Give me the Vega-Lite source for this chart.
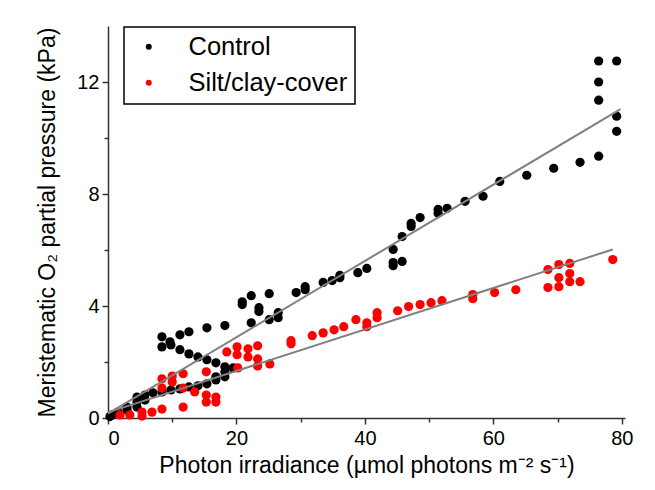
{
  "$schema": "https://vega.github.io/schema/vega-lite/v6.json",
  "width": 517,
  "height": 392,
  "autosize": {"type": "none"},
  "padding": {"left": 108, "top": 26, "right": 30, "bottom": 72},
  "background": "white",
  "config": {
    "view": {"stroke": null},
    "font": "Liberation Sans",
    "axis": {
      "domainColor": "#333333",
      "domainWidth": 1.5,
      "tickColor": "#333333",
      "tickWidth": 1.5,
      "grid": false,
      "labelFont": "Liberation Sans",
      "titleFont": "Liberation Sans",
      "labelColor": "#000000",
      "titleColor": "#000000",
      "labelFontSize": 20,
      "titleFontSize": 23,
      "titleFontWeight": "normal"
    },
    "legend": {
      "labelFont": "Liberation Sans",
      "labelFontSize": 25.5,
      "labelColor": "#000000",
      "strokeColor": "#000000",
      "strokeWidth": 1.5,
      "padding": 7,
      "rowPadding": 9,
      "symbolSize": 36,
      "symbolOffset": 5,
      "labelOffset": 27,
      "fillColor": "white"
    }
  },
  "datasets": {
    "points": [
      {"irr": 0.3, "o2": 0.05, "group": "Control"},
      {"irr": 0.62, "o2": 0.11, "group": "Control"},
      {"irr": 1.56, "o2": 0.21, "group": "Control"},
      {"irr": 2.96, "o2": 0.39, "group": "Control"},
      {"irr": 2.96, "o2": 0.29, "group": "Control"},
      {"irr": 4.51, "o2": 0.75, "group": "Control"},
      {"irr": 4.51, "o2": 0.57, "group": "Control"},
      {"irr": 4.51, "o2": 0.39, "group": "Control"},
      {"irr": 5.76, "o2": 0.82, "group": "Control"},
      {"irr": 5.76, "o2": 0.64, "group": "Control"},
      {"irr": 7.0, "o2": 0.9, "group": "Control"},
      {"irr": 8.4, "o2": 0.93, "group": "Control"},
      {"irr": 9.8, "o2": 1.0, "group": "Control"},
      {"irr": 11.2, "o2": 1.04, "group": "Control"},
      {"irr": 12.6, "o2": 1.11, "group": "Control"},
      {"irr": 14.0, "o2": 1.15, "group": "Control"},
      {"irr": 15.4, "o2": 1.22, "group": "Control"},
      {"irr": 16.8, "o2": 1.36, "group": "Control"},
      {"irr": 16.8, "o2": 1.47, "group": "Control"},
      {"irr": 18.2, "o2": 1.47, "group": "Control"},
      {"irr": 18.2, "o2": 1.65, "group": "Control"},
      {"irr": 18.2, "o2": 1.83, "group": "Control"},
      {"irr": 19.5, "o2": 1.79, "group": "Control"},
      {"irr": 16.8, "o2": 1.97, "group": "Control"},
      {"irr": 15.4, "o2": 2.08, "group": "Control"},
      {"irr": 14.0, "o2": 2.18, "group": "Control"},
      {"irr": 12.6, "o2": 2.29, "group": "Control"},
      {"irr": 11.2, "o2": 2.44, "group": "Control"},
      {"irr": 9.8, "o2": 2.61, "group": "Control"},
      {"irr": 9.65, "o2": 2.72, "group": "Control"},
      {"irr": 8.4, "o2": 2.9, "group": "Control"},
      {"irr": 8.4, "o2": 2.54, "group": "Control"},
      {"irr": 11.2, "o2": 2.97, "group": "Control"},
      {"irr": 12.6, "o2": 3.08, "group": "Control"},
      {"irr": 15.4, "o2": 3.22, "group": "Control"},
      {"irr": 18.2, "o2": 3.3, "group": "Control"},
      {"irr": 20.9, "o2": 4.15, "group": "Control"},
      {"irr": 20.9, "o2": 4.05, "group": "Control"},
      {"irr": 22.3, "o2": 4.37, "group": "Control"},
      {"irr": 23.5, "o2": 3.94, "group": "Control"},
      {"irr": 23.5, "o2": 3.8, "group": "Control"},
      {"irr": 22.3, "o2": 3.4, "group": "Control"},
      {"irr": 25.1, "o2": 4.44, "group": "Control"},
      {"irr": 25.1, "o2": 3.51, "group": "Control"},
      {"irr": 26.5, "o2": 3.76, "group": "Control"},
      {"irr": 26.5, "o2": 3.58, "group": "Control"},
      {"irr": 29.3, "o2": 4.48, "group": "Control"},
      {"irr": 30.7, "o2": 4.69, "group": "Control"},
      {"irr": 30.7, "o2": 4.58, "group": "Control"},
      {"irr": 33.5, "o2": 4.84, "group": "Control"},
      {"irr": 34.9, "o2": 4.91, "group": "Control"},
      {"irr": 36.1, "o2": 5.09, "group": "Control"},
      {"irr": 36.1, "o2": 5.01, "group": "Control"},
      {"irr": 38.9, "o2": 5.19, "group": "Control"},
      {"irr": 40.3, "o2": 5.34, "group": "Control"},
      {"irr": 44.4, "o2": 6.02, "group": "Control"},
      {"irr": 44.4, "o2": 5.55, "group": "Control"},
      {"irr": 44.4, "o2": 5.44, "group": "Control"},
      {"irr": 45.8, "o2": 5.59, "group": "Control"},
      {"irr": 45.8, "o2": 6.48, "group": "Control"},
      {"irr": 47.2, "o2": 6.95, "group": "Control"},
      {"irr": 47.2, "o2": 6.84, "group": "Control"},
      {"irr": 48.6, "o2": 7.16, "group": "Control"},
      {"irr": 51.4, "o2": 7.45, "group": "Control"},
      {"irr": 51.4, "o2": 7.31, "group": "Control"},
      {"irr": 52.8, "o2": 7.49, "group": "Control"},
      {"irr": 55.6, "o2": 7.74, "group": "Control"},
      {"irr": 58.4, "o2": 7.92, "group": "Control"},
      {"irr": 61.0, "o2": 8.45, "group": "Control"},
      {"irr": 65.2, "o2": 8.67, "group": "Control"},
      {"irr": 69.4, "o2": 8.92, "group": "Control"},
      {"irr": 73.5, "o2": 9.13, "group": "Control"},
      {"irr": 76.4, "o2": 9.35, "group": "Control"},
      {"irr": 76.4, "o2": 11.35, "group": "Control"},
      {"irr": 76.4, "o2": 12.0, "group": "Control"},
      {"irr": 76.4, "o2": 12.75, "group": "Control"},
      {"irr": 79.2, "o2": 12.75, "group": "Control"},
      {"irr": 79.2, "o2": 10.78, "group": "Control"},
      {"irr": 79.2, "o2": 10.24, "group": "Control"},
      {"irr": 1.87, "o2": 0.11, "group": "Silt/clay-cover"},
      {"irr": 3.4, "o2": 0.11, "group": "Silt/clay-cover"},
      {"irr": 5.3, "o2": 0.21, "group": "Silt/clay-cover"},
      {"irr": 5.3, "o2": 0.07, "group": "Silt/clay-cover"},
      {"irr": 6.85, "o2": 0.21, "group": "Silt/clay-cover"},
      {"irr": 8.4, "o2": 0.32, "group": "Silt/clay-cover"},
      {"irr": 11.7, "o2": 0.39, "group": "Silt/clay-cover"},
      {"irr": 8.4, "o2": 1.4, "group": "Silt/clay-cover"},
      {"irr": 8.4, "o2": 1.07, "group": "Silt/clay-cover"},
      {"irr": 10.0, "o2": 1.5, "group": "Silt/clay-cover"},
      {"irr": 10.0, "o2": 1.29, "group": "Silt/clay-cover"},
      {"irr": 11.7, "o2": 1.58, "group": "Silt/clay-cover"},
      {"irr": 11.7, "o2": 1.07, "group": "Silt/clay-cover"},
      {"irr": 13.5, "o2": 0.93, "group": "Silt/clay-cover"},
      {"irr": 15.3, "o2": 1.65, "group": "Silt/clay-cover"},
      {"irr": 15.3, "o2": 0.82, "group": "Silt/clay-cover"},
      {"irr": 15.3, "o2": 0.57, "group": "Silt/clay-cover"},
      {"irr": 16.8, "o2": 0.75, "group": "Silt/clay-cover"},
      {"irr": 16.8, "o2": 0.57, "group": "Silt/clay-cover"},
      {"irr": 18.5, "o2": 2.36, "group": "Silt/clay-cover"},
      {"irr": 20.1, "o2": 2.54, "group": "Silt/clay-cover"},
      {"irr": 20.1, "o2": 2.26, "group": "Silt/clay-cover"},
      {"irr": 21.8, "o2": 2.47, "group": "Silt/clay-cover"},
      {"irr": 21.8, "o2": 2.18, "group": "Silt/clay-cover"},
      {"irr": 23.3, "o2": 2.58, "group": "Silt/clay-cover"},
      {"irr": 23.3, "o2": 2.11, "group": "Silt/clay-cover"},
      {"irr": 23.3, "o2": 1.86, "group": "Silt/clay-cover"},
      {"irr": 20.2, "o2": 1.79, "group": "Silt/clay-cover"},
      {"irr": 25.2, "o2": 1.93, "group": "Silt/clay-cover"},
      {"irr": 28.5, "o2": 2.76, "group": "Silt/clay-cover"},
      {"irr": 28.5, "o2": 2.65, "group": "Silt/clay-cover"},
      {"irr": 31.8, "o2": 2.94, "group": "Silt/clay-cover"},
      {"irr": 33.5, "o2": 3.04, "group": "Silt/clay-cover"},
      {"irr": 35.2, "o2": 3.15, "group": "Silt/clay-cover"},
      {"irr": 36.7, "o2": 3.26, "group": "Silt/clay-cover"},
      {"irr": 38.6, "o2": 3.51, "group": "Silt/clay-cover"},
      {"irr": 40.3, "o2": 3.4, "group": "Silt/clay-cover"},
      {"irr": 40.3, "o2": 3.26, "group": "Silt/clay-cover"},
      {"irr": 41.9, "o2": 3.76, "group": "Silt/clay-cover"},
      {"irr": 41.9, "o2": 3.58, "group": "Silt/clay-cover"},
      {"irr": 45.1, "o2": 3.83, "group": "Silt/clay-cover"},
      {"irr": 46.8, "o2": 3.98, "group": "Silt/clay-cover"},
      {"irr": 48.6, "o2": 4.05, "group": "Silt/clay-cover"},
      {"irr": 50.3, "o2": 4.12, "group": "Silt/clay-cover"},
      {"irr": 52.0, "o2": 4.19, "group": "Silt/clay-cover"},
      {"irr": 56.8, "o2": 4.41, "group": "Silt/clay-cover"},
      {"irr": 56.8, "o2": 4.26, "group": "Silt/clay-cover"},
      {"irr": 60.2, "o2": 4.48, "group": "Silt/clay-cover"},
      {"irr": 63.5, "o2": 4.58, "group": "Silt/clay-cover"},
      {"irr": 68.5, "o2": 5.3, "group": "Silt/clay-cover"},
      {"irr": 68.5, "o2": 4.66, "group": "Silt/clay-cover"},
      {"irr": 70.2, "o2": 5.48, "group": "Silt/clay-cover"},
      {"irr": 70.2, "o2": 5.01, "group": "Silt/clay-cover"},
      {"irr": 70.2, "o2": 4.69, "group": "Silt/clay-cover"},
      {"irr": 71.9, "o2": 5.52, "group": "Silt/clay-cover"},
      {"irr": 71.9, "o2": 5.16, "group": "Silt/clay-cover"},
      {"irr": 71.9, "o2": 4.87, "group": "Silt/clay-cover"},
      {"irr": 73.5, "o2": 4.87, "group": "Silt/clay-cover"},
      {"irr": 78.6, "o2": 5.66, "group": "Silt/clay-cover"}
    ],
    "fits": [
      {"irr": 0, "o2": 0.16, "group": "Control"},
      {"irr": 79.8, "o2": 11.03, "group": "Control"},
      {"irr": 0, "o2": 0.2, "group": "Silt/clay-cover"},
      {"irr": 78.6, "o2": 6.02, "group": "Silt/clay-cover"}
    ]
  },
  "layer": [
    {
      "data": {"name": "points"},
      "mark": {"type": "circle", "size": 85, "opacity": 1},
      "encoding": {
        "x": {
          "field": "irr",
          "type": "quantitative",
          "scale": {"domain": [0, 80.5], "nice": false, "zero": false},
          "axis": {
            "title": "Photon irradiance (µmol photons m⁻² s⁻¹)",
            "values": [0, 10, 20, 30, 40, 50, 60, 70, 80],
            "labelExpr": "datum.value % 20 === 0 ? datum.label : ''",
            "tickSize": {"condition": {"test": "datum.value % 20 === 0", "value": 6}, "value": 4},
            "labelPadding": 4,
            "titlePadding": 6
          }
        },
        "y": {
          "field": "o2",
          "type": "quantitative",
          "scale": {"domain": [0, 14], "nice": false, "zero": false},
          "axis": {
            "title": "Meristematic O₂ partial pressure (kPa)",
            "values": [0, 2, 4, 6, 8, 10, 12],
            "labelExpr": "datum.value % 4 === 0 ? datum.label : ''",
            "tickSize": {"condition": {"test": "datum.value % 4 === 0", "value": 6}, "value": 4},
            "labelPadding": 3,
            "titlePadding": 17
          }
        },
        "color": {
          "field": "group",
          "type": "nominal",
          "scale": {"domain": ["Control", "Silt/clay-cover"], "range": ["#000000", "#ff0000"]},
          "legend": {"title": null, "orient": "none", "legendX": 16, "legendY": 1}
        }
      }
    },
    {
      "data": {"name": "fits"},
      "mark": {"type": "line", "color": "#808080", "strokeWidth": 2},
      "encoding": {
        "x": {"field": "irr", "type": "quantitative"},
        "y": {"field": "o2", "type": "quantitative"},
        "detail": {"field": "group", "type": "nominal"}
      }
    }
  ]
}
